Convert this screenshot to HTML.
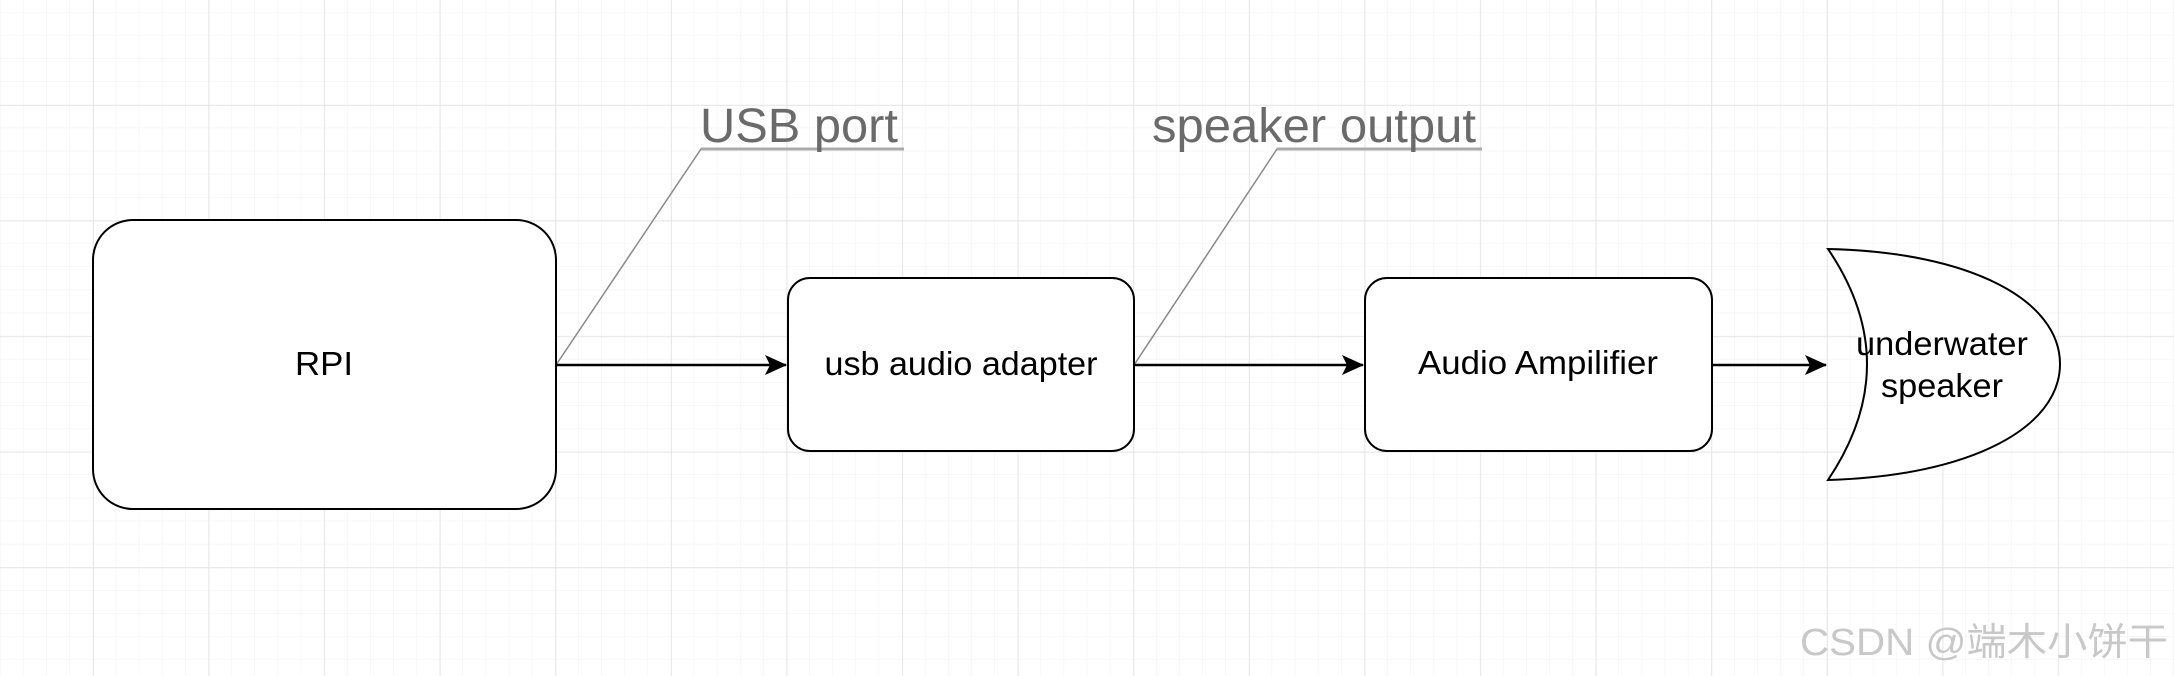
<!DOCTYPE html>
<html><head><meta charset="utf-8"><style>
html,body{margin:0;padding:0;background:#fff;}
svg{display:block;}
</style></head><body>
<svg width="2174" height="676" xmlns="http://www.w3.org/2000/svg">
<defs>
<pattern id="minor" x="0.6" y="12.6" width="23.12" height="23.12" patternUnits="userSpaceOnUse">
<path d="M23.12 0V23.12M0 23.12H23.12" fill="none" stroke="#f0f0f0" stroke-width="1"/>
</pattern>
<pattern id="major" x="93" y="105" width="115.6" height="115.6" patternUnits="userSpaceOnUse">
<path d="M0 0V115.6M0 0H115.6" fill="none" stroke="#e2e2e2" stroke-width="1.5"/>
</pattern>
<marker id="ah" markerWidth="22" markerHeight="20" refX="21" refY="10" orient="auto" markerUnits="userSpaceOnUse" viewBox="0 0 22 20">
<path d="M0 0L22 10L0 20L5 10Z" fill="#000"/>
</marker>
</defs>
<rect width="2174" height="676" fill="#fff"/>
<rect width="2174" height="676" fill="url(#minor)"/>
<rect width="2174" height="676" fill="url(#major)"/>

<g stroke="#888" stroke-width="1.5" fill="none">
<path d="M556 365L701 149H904"/>
<path d="M1134 365L1277 149H1482"/>
</g>
<g stroke="#aaa" stroke-width="3" fill="none">
<path d="M701 149H904"/>
<path d="M1277 149H1482"/>
</g>
<g fill="#6a6a6a" font-family="Liberation Sans, sans-serif" font-size="48">
<text x="700" y="142" textLength="198" lengthAdjust="spacingAndGlyphs">USB port</text>
<text x="1152" y="142" textLength="324" lengthAdjust="spacingAndGlyphs">speaker output</text>
</g>

<g fill="#fff" stroke="#000" stroke-width="2">
<rect x="93" y="220" width="463" height="289" rx="40"/>
<rect x="788" y="278" width="346" height="173" rx="22"/>
<rect x="1365" y="278" width="347" height="173" rx="22"/>
<path d="M1828 249C1970 252 2060 300 2060 364C2060 428 1970 476 1828 480Q1906 364 1828 249Z"/>
</g>

<g stroke="#000" stroke-width="2.5" fill="none">
<line x1="556" y1="365" x2="786" y2="365" marker-end="url(#ah)"/>
<line x1="1134" y1="365" x2="1363" y2="365" marker-end="url(#ah)"/>
<line x1="1712" y1="365" x2="1826" y2="365" marker-end="url(#ah)"/>
</g>

<g fill="#000" font-family="Liberation Sans, sans-serif" font-size="33" text-anchor="middle">
<text x="324" y="375" textLength="58" lengthAdjust="spacingAndGlyphs">RPI</text>
<text x="961" y="375" textLength="273" lengthAdjust="spacingAndGlyphs">usb audio adapter</text>
<text x="1538" y="374" textLength="240" lengthAdjust="spacingAndGlyphs">Audio Ampilifier</text>
<text x="1942" y="355" textLength="172" lengthAdjust="spacingAndGlyphs">underwater</text>
<text x="1942" y="397" textLength="122" lengthAdjust="spacingAndGlyphs">speaker</text>
</g>

<text x="1800" y="655" fill="#c8c8c8" font-family="Liberation Sans, 'Noto Sans CJK SC', sans-serif" font-size="38" textLength="368" lengthAdjust="spacingAndGlyphs">CSDN @端木小饼干</text>
</svg>
</body></html>
